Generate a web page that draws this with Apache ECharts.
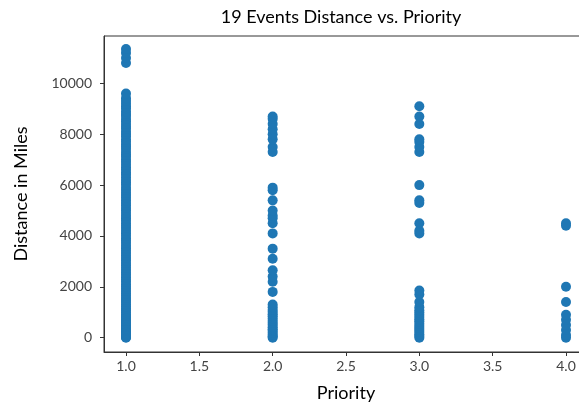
<!DOCTYPE html>
<html>
<head>
<meta charset="utf-8">
<script src="https://cdn.jsdelivr.net/npm/echarts@6/dist/echarts.min.js"></script>
<style>
html,body{margin:0;padding:0;background:#fff;}
#chart{width:579px;height:404px;}
</style>
</head>
<body>
<div id="chart"></div>
<script>
// Priority levels (x) and distances in miles (y)
const priority1 = [0, 15, 40, 75, 110, 160, 210, 260, 300, 360, 420, 470, 530, 600, 650, 720, 790, 850, 920, 1000, 1080, 1150, 1230, 1310, 1400, 1480, 1560, 1650, 1740, 1830, 1920, 2010, 2100, 2200, 2290, 2380, 2470, 2560, 2660, 2750, 2850, 2940, 3040, 3130, 3230, 3330, 3420, 3520, 3610, 3720, 3820, 3910, 4010, 4110, 4200, 4310, 4400, 4500, 4610, 4700, 4790, 4900, 5010, 5100, 5210, 5300, 5400, 5510, 5610, 5700, 5810, 5900, 6020, 6110, 6200, 6310, 6420, 6500, 6610, 6700, 6800, 6910, 7010, 7120, 7200, 7300, 7420, 7510, 7600, 7710, 7800, 7920, 8010, 8100, 8220, 8300, 8400, 8510, 8600, 8720, 8800, 8900, 9020, 9100, 9200, 9310, 9420, 9600, 10800, 11000, 11200, 11350];
const priority2 = [0, 40, 100, 180, 260, 330, 410, 500, 580, 660, 750, 840, 920, 1010, 1100, 1200, 1300, 1800, 2200, 2400, 2650, 3100, 3500, 4100, 4500, 4700, 4800, 5000, 5400, 5800, 5900, 7300, 7500, 7800, 8000, 8200, 8400, 8600, 8700];
const priority3 = [0, 60, 130, 220, 300, 380, 460, 550, 640, 720, 810, 900, 990, 1080, 1200, 1400, 1700, 1850, 4100, 4200, 4500, 5300, 5400, 6000, 7300, 7500, 7700, 7800, 8400, 8700, 9100];
const priority4 = [0, 100, 300, 500, 700, 900, 1400, 2000, 4400, 4500];
const xTicks = [1.0, 1.5, 2.0, 2.5, 3.0, 3.5, 4.0];
const yTicks = [0, 2000, 4000, 6000, 8000, 10000];

const groups = [[1, priority1], [2, priority2], [3, priority3], [4, priority4]];
const points = [];
groups.forEach(([p, arr]) => arr.forEach(v => points.push([p, v])));

const chart = echarts.init(document.getElementById('chart'), null, {renderer: 'canvas'});
const font = 'Lato, "Open Sans", sans-serif';
chart.setOption({
  animation: false,
  backgroundColor: '#ffffff',
  title: {
    text: '19 Events Distance vs. Priority',
    left: 336,
    textAlign: 'center',
    top: 3,
    textStyle: {fontFamily: font, fontSize: 18, fontWeight: 'normal', color: '#000'}
  },
  grid: {
    left: 104, top: 36, width: 484, height: 316,
    outerBoundsMode: 'none',
    containLabel: false,
    show: true, borderColor: '#333', borderWidth: 1, backgroundColor: 'transparent'
  },
  xAxis: {
    type: 'value',
    min: 0.85, max: 4.15,
    name: 'Priority',
    nameLocation: 'middle',
    nameGap: 32,
    nameTextStyle: {fontFamily: font, fontSize: 18, color: '#000'},
    axisLine: {show: true, onZero: false, lineStyle: {color: '#333', width: 1}},
    axisTick: {show: true, length: 4, lineStyle: {color: '#333'}, customValues: xTicks},
    axisLabel: {fontFamily: font, fontSize: 14, color: '#444', margin: 7,
      customValues: xTicks, formatter: v => Number(v).toFixed(1)},
    splitLine: {show: false}
  },
  yAxis: {
    type: 'value',
    min: -565, max: 11865,
    name: 'Distance in Miles',
    nameLocation: 'middle',
    nameGap: 74,
    nameRotate: 90,
    nameTextStyle: {fontFamily: font, fontSize: 18, color: '#000'},
    axisLine: {show: true, onZero: false, lineStyle: {color: '#333', width: 1}},
    axisTick: {show: true, length: 4, lineStyle: {color: '#333'}, customValues: yTicks},
    axisLabel: {fontFamily: font, fontSize: 14, color: '#444', margin: 12,
      customValues: yTicks, formatter: v => String(Math.round(v))},
    splitLine: {show: false}
  },
  series: [{
    type: 'scatter',
    data: points,
    symbolSize: 10,
    itemStyle: {color: '#1f77b4', opacity: 1},
    clip: true
  }]
});
</script>
</body>
</html>
